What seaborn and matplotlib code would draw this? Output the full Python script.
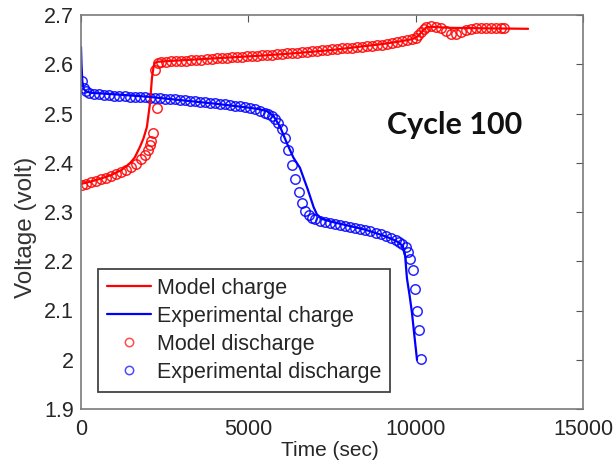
import matplotlib
matplotlib.use("Agg")
import matplotlib.pyplot as plt
import seaborn as sns
import pandas as pd
from matplotlib.lines import Line2D

# ---- data ----
model_charge_t = [0, 300, 600, 900, 1200, 1450, 1600, 1760, 1870, 1970, 2060, 2120, 2170, 2210,
                  2280, 2500, 3500, 4500, 5500, 6500, 7500, 8500, 9000, 9500, 9900, 10050, 10200,
                  10320, 10500, 11000, 12000, 13360]
model_charge_v = [2.357, 2.362, 2.368, 2.375, 2.385, 2.398, 2.410, 2.432, 2.450, 2.473, 2.520, 2.572,
                  2.596, 2.603, 2.605, 2.606, 2.610, 2.614, 2.618, 2.623, 2.629, 2.637, 2.641, 2.646,
                  2.651, 2.656, 2.667, 2.675, 2.676, 2.674, 2.673, 2.672]

exp_charge_t = [0, 15, 40, 80, 150, 300, 1000, 2000, 3000, 4000, 5000, 5300, 5550, 5750, 5950, 6150,
                6350, 6540, 6780, 6950, 7050, 7200, 7500, 8000, 8500, 9000, 9300, 9500, 9620, 9680,
                9740, 9820, 9890, 9960, 10040]
exp_charge_v = [2.635, 2.600, 2.565, 2.550, 2.545, 2.542, 2.539, 2.534, 2.527, 2.520, 2.512, 2.509,
                2.505, 2.495, 2.473, 2.440, 2.410, 2.390, 2.345, 2.310, 2.295, 2.286, 2.280, 2.272,
                2.264, 2.253, 2.245, 2.238, 2.230, 2.215, 2.165, 2.130, 2.095, 2.050, 2.000]

model_dis_t = [30, 150, 300, 450, 600, 750, 900, 1050, 1200, 1350, 1500, 1650, 1800, 1900, 2000,
               2060, 2100, 2150, 2270, 2210, 2300, 2400, 2550, 2700, 2850, 3000, 3150, 3300, 3450,
               3600, 3750, 3900, 4050, 4200, 4350, 4500, 4650, 4800, 4950, 5100, 5250, 5400, 5550,
               5700, 5850, 6000, 6150, 6300, 6450, 6600, 6750, 6900, 7050, 7200, 7350, 7500, 7650,
               7800, 7950, 8100, 8250, 8400, 8550, 8700, 8850, 9000, 9150, 9300, 9450, 9600, 9750,
               9900, 10000, 10080, 10160, 10240, 10320, 10450, 10600, 10750, 10900, 11050, 11200,
               11350, 11500, 11650, 11800, 11950, 12100, 12250, 12400, 12550, 12630]
model_dis_v = [2.355, 2.357, 2.360, 2.363, 2.366, 2.369, 2.373, 2.377, 2.381, 2.386, 2.391, 2.398,
               2.408, 2.416, 2.426, 2.436, 2.445, 2.460, 2.511, 2.588, 2.602, 2.604, 2.605, 2.606,
               2.606, 2.607, 2.607, 2.608, 2.609, 2.609, 2.610, 2.611, 2.612, 2.612, 2.613, 2.614,
               2.614, 2.615, 2.616, 2.617, 2.617, 2.618, 2.619, 2.619, 2.620, 2.621, 2.622, 2.622,
               2.623, 2.624, 2.625, 2.626, 2.627, 2.628, 2.629, 2.630, 2.631, 2.632, 2.633, 2.634,
               2.635, 2.636, 2.637, 2.638, 2.639, 2.640, 2.641, 2.643, 2.645, 2.647, 2.649, 2.651,
               2.654, 2.659, 2.665, 2.671, 2.675, 2.677, 2.676, 2.673, 2.667, 2.662, 2.662, 2.666,
               2.670, 2.672, 2.673, 2.673, 2.674, 2.674, 2.674, 2.674, 2.674]

exp_dis_t = [40, 90, 150, 250, 400, 550, 700, 850, 1000, 1150, 1300, 1450, 1600, 1750, 1900, 2050,
             2200, 2350, 2500, 2650, 2800, 2950, 3100, 3250, 3400, 3550, 3700, 3850, 4000, 4150,
             4300, 4450, 4600, 4750, 4900, 5050, 5200, 5350, 5500, 5600, 5700, 5800, 5900, 6000,
             6100, 6200, 6300, 6400, 6500, 6600, 6700, 6800, 6900, 7000, 7150, 7300, 7450, 7600,
             7750, 7900, 8050, 8200, 8350, 8500, 8650, 8800, 8950, 9100, 9250, 9400, 9500, 9600,
             9700, 9770, 9830, 9920, 9980, 10040, 10100, 10160]
exp_dis_v = [2.565, 2.552, 2.546, 2.542, 2.540, 2.539, 2.538, 2.537, 2.536, 2.536, 2.535, 2.534,
             2.534, 2.533, 2.533, 2.532, 2.531, 2.531, 2.530, 2.529, 2.529, 2.528, 2.527, 2.526,
             2.525, 2.524, 2.523, 2.522, 2.521, 2.520, 2.519, 2.518, 2.516, 2.515, 2.513, 2.511,
             2.509, 2.506, 2.502, 2.499, 2.494, 2.488, 2.480, 2.468, 2.450, 2.425, 2.395, 2.367,
             2.340, 2.318, 2.303, 2.293, 2.288, 2.285, 2.282, 2.280, 2.278, 2.276, 2.274, 2.272,
             2.270, 2.268, 2.266, 2.264, 2.261, 2.258, 2.255, 2.252, 2.248, 2.243, 2.239, 2.235,
             2.228, 2.219, 2.205, 2.182, 2.143, 2.100, 2.060, 2.001]

x_ticks = [0, 5000, 10000, 15000]
x_tick_labels = ["0", "5000", "10000", "15000"]
y_ticks = [1.9, 2.0, 2.1, 2.2, 2.3, 2.4, 2.5, 2.6, 2.7]
y_tick_labels = ["1.9", "2", "2.1", "2.2", "2.3", "2.4", "2.5", "2.6", "2.7"]
legend_labels = ["Model charge", "Experimental charge", "Model discharge", "Experimental discharge"]
annotation = "Cycle 100"

# ---- plotting ----
sns.set_theme(style="white")
plt.rcParams["font.family"] = ["Liberation Sans", "DejaVu Sans"]

fig = plt.figure(figsize=(6.16, 4.67), dpi=100)
ax = fig.add_axes([81 / 616, 1 - 409 / 467, 502 / 616, 394 / 467])

red = "#ff0000"
blue = "#0000ff"
text_col = "#262626"

df_mc = pd.DataFrame({"t": model_charge_t, "v": model_charge_v})
df_ec = pd.DataFrame({"t": exp_charge_t, "v": exp_charge_v})
df_md = pd.DataFrame({"t": model_dis_t, "v": model_dis_v})
df_ed = pd.DataFrame({"t": exp_dis_t, "v": exp_dis_v})

circ = dict(linestyle="none", marker="o", markersize=6.8, markerfacecolor="none",
            markeredgewidth=1.1, alpha=0.85)
sns.lineplot(data=df_md, x="t", y="v", ax=ax, estimator=None, sort=False,
             markeredgecolor=red, color=red, **circ)
sns.lineplot(data=df_ed, x="t", y="v", ax=ax, estimator=None, sort=False,
             markeredgecolor=blue, color=blue, **circ)
sns.lineplot(data=df_mc, x="t", y="v", ax=ax, estimator=None, sort=False,
             color=red, linewidth=1.6)
sns.lineplot(data=df_ec, x="t", y="v", ax=ax, estimator=None, sort=False,
             color=blue, linewidth=1.6)

ax.set_xlim(0, 15000)
ax.set_ylim(1.9, 2.7)
ax.set_xticks(x_ticks)
ax.set_xticklabels(x_tick_labels)
ax.set_yticks(y_ticks)
ax.set_yticklabels(y_tick_labels)
ax.tick_params(direction="in", length=5, width=0.8, color="#555555",
               top=True, right=True, labelsize=15.5, labelcolor=text_col, pad=5)
ax.tick_params(axis="x", pad=7)
for s in ax.spines.values():
    s.set_color("#7a7a7a")
    s.set_linewidth(1.2)

ax.set_xlabel("Time (sec)", fontsize=15, color=text_col)
ax.set_ylabel("Voltage (volt)", fontsize=17.5, color="#333333")
ax.xaxis.set_label_coords(0.496, -0.082)
ax.yaxis.set_label_coords(-0.088, 0.462)

ax.text(455 / 616, 1 - 125 / 467, annotation, transform=fig.transFigure,
        ha="center", va="center", fontsize=22, fontweight="bold",
        family=["Lato", "DejaVu Sans"], color="#111111")

handles = [
    Line2D([], [], color=red, linewidth=1.6),
    Line2D([], [], color=blue, linewidth=1.6),
    Line2D([], [], color=red, linestyle="none", marker="o", markersize=6,
           markerfacecolor="none", markeredgewidth=1.1, alpha=0.7),
    Line2D([], [], color=blue, linestyle="none", marker="o", markersize=6,
           markerfacecolor="none", markeredgewidth=1.1, alpha=0.7),
]
leg = ax.legend(handles, legend_labels, loc="upper left",
                bbox_to_anchor=(17 / 502, (409 - 269) / 394), fontsize=15.5,
                frameon=True, fancybox=False, framealpha=1, edgecolor="#444444",
                borderpad=0.4, labelspacing=0.33, handlelength=2.05, handletextpad=0.3,
                borderaxespad=0)
leg.get_frame().set_linewidth(1.3)
for t in leg.get_texts():
    t.set_color(text_col)

fig.savefig("out.png", dpi=100)
